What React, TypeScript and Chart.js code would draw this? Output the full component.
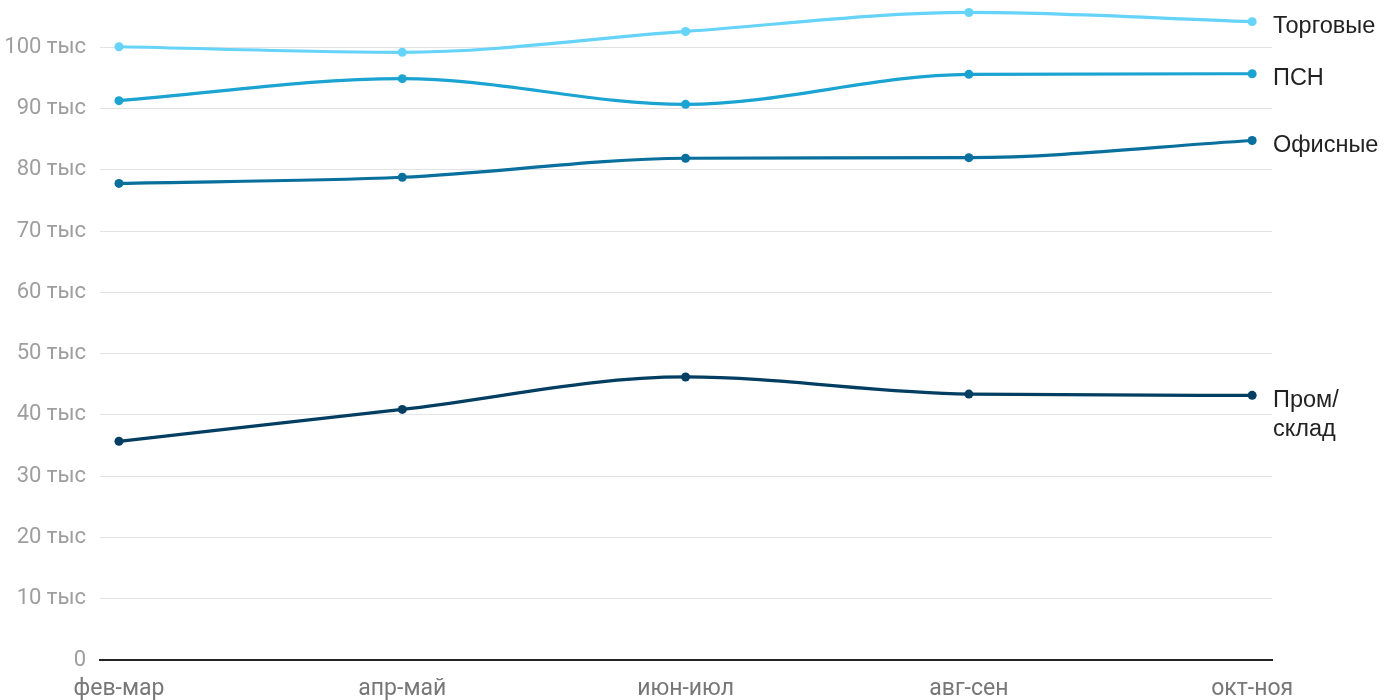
import React, { useEffect, useRef } from "react";
import { Chart, registerables } from "chart.js";

Chart.register(...registerables);

const categories = ["фев-мар", "апр-май", "июн-июл", "авг-сен", "окт-ноя"];
const seriesNames = ["Торговые", "ПСН", "Офисные", "Пром/склад"];
const seriesLabelLines = [["Торговые"], ["ПСН"], ["Офисные"], ["Пром/", "склад"]];
const torgovye = [100.1, 99.2, 102.6, 105.7, 104.2];
const psn = [91.3, 94.9, 90.7, 95.6, 95.7];
const ofisnye = [77.8, 78.8, 81.9, 82.0, 84.8];
const promSklad = [35.7, 40.9, 46.2, 43.4, 43.2];
const yTickValues = [0, 10, 20, 30, 40, 50, 60, 70, 80, 90, 100];
const colors = ["#66d3f8", "#1ba3d1", "#096f9c", "#023e62"];

const allSeries = [torgovye, psn, ofisnye, promSklad];

export default function App() {
  const ref = useRef<HTMLCanvasElement | null>(null);
  useEffect(() => {
    if (!ref.current) return;
    const labelPlugin = {
      id: "endLabels",
      afterDatasetsDraw(chart: any) {
        const ctx = chart.ctx;
        ctx.save();
        ctx.font = "23.5px 'Liberation Sans', Arial, sans-serif";
        ctx.fillStyle = "#222";
        ctx.textBaseline = "middle";
        ctx.textAlign = "left";
        chart.data.datasets.forEach((ds: any, i: number) => {
          const meta = chart.getDatasetMeta(i);
          const pt = meta.data[meta.data.length - 1];
          const lines = seriesLabelLines[i];
          lines.forEach((l: string, j: number) => {
            ctx.fillText(l, chart.chartArea.right + 1, pt.y + 5 + j * 29);
          });
        });
        ctx.restore();
      },
    };
    const chart = new Chart(ref.current, {
      type: "line",
      data: {
        datasets: allSeries.map((s, i) => ({
          label: seriesNames[i],
          data: s.map((v, k) => ({ x: k, y: v })),
          borderColor: colors[i],
          backgroundColor: colors[i],
          pointBackgroundColor: colors[i],
          pointBorderWidth: 0,
          pointRadius: 4.5,
          borderWidth: 3.2,
          cubicInterpolationMode: "monotone" as const,
          fill: false,
          clip: false as any,
        })),
      },
      options: {
        animation: false,
        responsive: true,
        maintainAspectRatio: false,
        layout: { padding: { top: 4, right: 128, left: 0, bottom: 0 } },
        plugins: { legend: { display: false }, tooltip: { enabled: false } },
        scales: {
          x: {
            type: "linear",
            min: -0.067,
            max: 4.07,
            afterBuildTicks: (axis: any) => {
              axis.ticks = categories.map((_, i) => ({ value: i }));
            },
            afterFit: (axis: any) => {
              axis.height = 40;
            },
            ticks: {
              autoSkip: false,
              maxRotation: 0,
              padding: 15,
              color: "#777",
              font: { family: "Roboto", size: 23 },
              callback: (v: any) => categories[Math.round(Number(v))] ?? "",
            },
            grid: { display: false, drawTicks: false },
            border: { display: true, color: "#222", width: 2 },
          },
          y: {
            min: 0,
            max: 107,
            afterBuildTicks: (axis: any) => {
              axis.ticks = yTickValues.map((v) => ({ value: v }));
            },
            afterFit: (axis: any) => {
              axis.width = 100;
              axis.paddingTop = 0;
              axis.paddingBottom = 0;
            },
            ticks: {
              padding: 14,
              color: "#9e9e9e",
              font: { family: "Roboto", size: 22 },
              callback: (v: any) => (Number(v) === 0 ? "0" : `${v} тыс`),
            },
            grid: {
              color: (c: any) => (c.tick && c.tick.value === 0 ? "rgba(0,0,0,0)" : "#e3e3e3"),
              lineWidth: 1,
              drawTicks: false,
            },
            border: { display: false },
          },
        },
      },
      plugins: [labelPlugin],
    });
    return () => chart.destroy();
  }, []);
  return (
    <div style={{ position: "fixed", left: 0, top: 0, width: 1400, height: 700, background: "#fff" }}>
      <canvas ref={ref} />
    </div>
  );
}
